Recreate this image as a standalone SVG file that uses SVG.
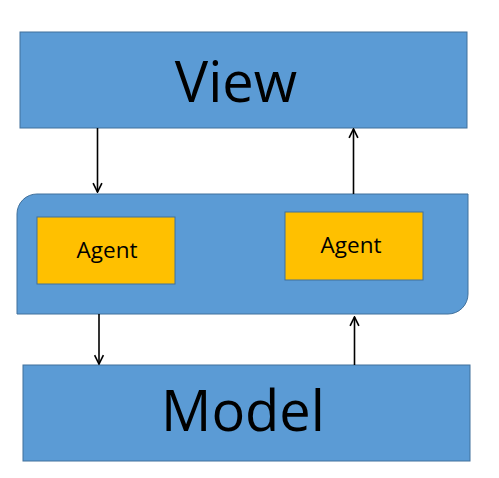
<svg xmlns="http://www.w3.org/2000/svg" width="499" height="478" viewBox="0 0 499 478">
<defs>
<marker id="arr" viewBox="0 0 10 10" refX="9" refY="5" markerWidth="11" markerHeight="11" markerUnits="userSpaceOnUse" orient="auto">
<path d="M1,1 L9,5 L1,9" fill="none" stroke="#000" stroke-width="1.5"/>
</marker>
<style>
.blue{fill:#5B9BD5;stroke:#41719C;stroke-width:1}
.agent{fill:#FFC000;stroke:#41719C;stroke-width:1}
.big{font-family:"Open Sans","Noto Sans",sans-serif;font-size:56px;fill:#000;text-anchor:middle}
.small{font-family:"Open Sans","Noto Sans",sans-serif;font-size:22.5px;fill:#000;text-anchor:middle}
.conn{stroke:#000;stroke-width:1.6;fill:none;marker-end:url(#arr)}
</style>
</defs>
<rect width="499" height="478" fill="#fff"/>
<g id="view">
<rect class="blue" x="20" y="32" width="447" height="96"/>
<text class="big" x="236" y="102">View</text>
</g>
<g id="middle">
<path class="blue" d="M37,194 H468 V294 A20,20 0 0 1 448,314 H17 V214 A20,20 0 0 1 37,194 Z"/>
</g>
<g id="agent1">
<rect class="agent" x="37" y="217" width="138" height="67"/>
<text class="small" x="107" y="258">Agent</text>
</g>
<g id="agent2">
<rect class="agent" x="285" y="212" width="138" height="68"/>
<text class="small" x="351" y="253">Agent</text>
</g>
<g id="model">
<rect class="blue" x="23" y="365" width="447" height="96"/>
<text class="big" x="243" y="431">Model</text>
</g>
<g id="connectors">
<line class="conn" x1="97.5" y1="128" x2="97.5" y2="192"/>
<line class="conn" x1="353.5" y1="194" x2="353.5" y2="129"/>
<line class="conn" x1="99" y1="314" x2="99" y2="364"/>
<line class="conn" x1="354.5" y1="365" x2="354.5" y2="317"/>
</g>
</svg>
